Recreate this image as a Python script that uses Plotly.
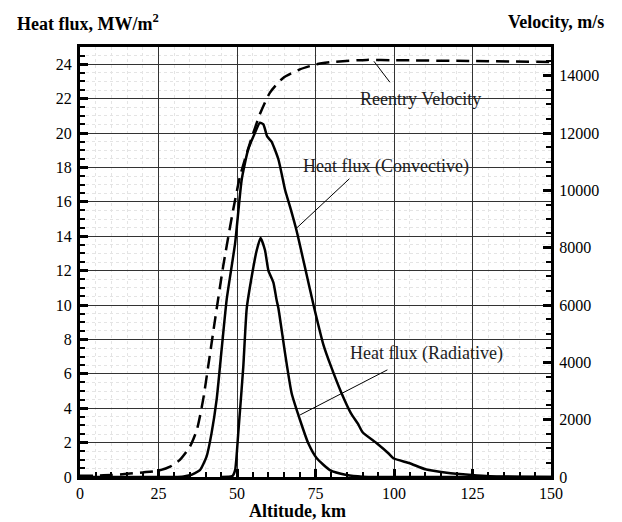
import plotly.graph_objects as go

# ---------------- data ----------------
vel_alt = [0, 5, 10, 15, 20, 25, 28.7, 31.8, 35.0, 37.2, 39.2, 40.8, 43.0, 45.6, 48.8,
           51.0, 54.1, 57.3, 60.5, 64.7, 70.0, 75.4, 80.6, 91.3, 100, 125, 150]
velocity = [40, 50, 70, 110, 160, 220, 360, 600, 1060, 1640, 2690, 3840, 5480, 7350, 9330,
            10500, 11640, 12660, 13410, 13920, 14220, 14400, 14480, 14550, 14540, 14510, 14480]

conv_alt = [0, 30, 33, 35, 38.2, 40.3, 41.9, 43.5, 45.1, 46.7, 49.4, 51.5, 53.5, 55.7, 57.3,
            58.4, 59.6, 61.0, 63.2, 65.3, 66.9, 69.0, 72.0, 74.5, 77.5, 80.0,
            83.3, 86.3, 88.5, 90.0, 94.5, 98.2, 99.8, 105, 110, 116.8, 124.7, 130.6, 140, 150]
conv_flux = [0, 0, 0.03, 0.1, 0.4, 1.18, 2.55, 4.48, 7.4, 10.3, 13.6, 17.3, 19.0, 20.0, 20.6,
             20.5, 19.8, 19.5, 18.46, 16.7, 15.7, 14.3, 11.9, 9.9, 7.7, 6.4,
             4.87, 3.7, 3.1, 2.6, 1.96, 1.38, 1.09, 0.8, 0.45, 0.25, 0.12, 0.05, 0.02, 0]

rad_alt = [45, 48.5, 49.4, 50.4, 52.0, 53.1, 54.7, 56.3, 57.5, 58.9, 60.0, 61.6, 62.6, 63.2,
           65.3, 67.4, 70.1, 72.7, 75.4, 79.6, 84.9, 90, 100, 150]
rad_flux = [0, 0.05, 0.4, 2.55, 6.4, 9.8, 11.67, 13.2, 13.9, 13.2, 12.0, 11.3, 10.3, 9.8,
            7.2, 4.87, 3.3, 1.96, 1.09, 0.4, 0.12, 0.02, 0, 0]

x_ticks = [0, 25, 50, 75, 100, 125, 150]
flux_ticks = list(range(0, 25, 2))
vel_ticks = list(range(0, 15000, 2000))

FONT = "Liberation Serif, Times New Roman, serif"

fig = go.Figure()
fig.add_trace(go.Scatter(x=vel_alt, y=velocity, yaxis="y2", mode="lines",
                         line=dict(color="black", width=2.5, dash="13px,7px", shape="spline", smoothing=0.6),
                         name="Reentry Velocity", showlegend=False))
fig.add_trace(go.Scatter(x=conv_alt, y=conv_flux, mode="lines",
                         line=dict(color="black", width=2.5, shape="spline", smoothing=0.5),
                         name="Heat flux (Convective)", showlegend=False))
fig.add_trace(go.Scatter(x=rad_alt, y=rad_flux, mode="lines",
                         line=dict(color="black", width=2.5, shape="spline", smoothing=0.5),
                         name="Heat flux (Radiative)", showlegend=False))

tickfont = dict(family=FONT, size=16, color="black")

fig.update_layout(
    width=622, height=522,
    margin=dict(l=80, r=71, t=47, b=45),
    paper_bgcolor="white", plot_bgcolor="white",
    font=dict(family=FONT, color="black"),
    xaxis=dict(range=[0, 150], tickvals=x_ticks, ticks="inside", ticklen=8, tickwidth=2.5,
               tickcolor="black", showline=True, linewidth=3, linecolor="black", mirror=True,
               showgrid=True, gridcolor="#333", gridwidth=1, zeroline=False,
               tickfont=tickfont, ticklabelstandoff=0,
               minor=dict(dtick=5, ticks="inside", ticklen=5, tickwidth=1.5, tickcolor="black",
                          showgrid=True, gridcolor="#e4e4e4", griddash="dot", gridwidth=1)),
    yaxis=dict(range=[0, 25], tickvals=flux_ticks, ticks="inside", ticklen=8, tickwidth=2.5,
               tickcolor="black", showline=True, linewidth=3, linecolor="black", mirror=False,
               showgrid=True, gridcolor="#333", gridwidth=1, zeroline=False,
               tickfont=tickfont, ticklabelstandoff=2,
               minor=dict(dtick=0.5, ticks="inside", ticklen=5, tickwidth=1.5, tickcolor="black",
                          showgrid=True, gridcolor="#e4e4e4", griddash="dot", gridwidth=1)),
    yaxis2=dict(range=[0, 15000], tickvals=vel_ticks, tickformat="d", overlaying="y", side="right",
                ticks="inside", ticklen=8, tickwidth=2.5, tickcolor="black",
                showline=True, linewidth=3, linecolor="black", showgrid=False, zeroline=False,
                tickfont=tickfont, ticklabelstandoff=2,
                minor=dict(dtick=500, ticks="inside", ticklen=5, tickwidth=1.5, tickcolor="black")),
    showlegend=False,
)

ann_font = dict(family=FONT, size=18, color="#222")
title_font = dict(family=FONT, size=18, color="black")

annotations = [
    dict(text="<b>Heat flux, MW/m<sup>2</sup></b>", xref="paper", yref="paper", x=-0.138, y=1.058,
         xanchor="left", yanchor="middle", showarrow=False, font=title_font),
    dict(text="<b>Velocity, m/s</b>", xref="paper", yref="paper", x=1.117, y=1.058,
         xanchor="right", yanchor="middle", showarrow=False, font=title_font),
    dict(text="<b>Altitude, km</b>", xref="paper", yref="paper", x=0.462, y=-0.08,
         xanchor="center", yanchor="middle", showarrow=False, font=title_font),
    dict(text="Reentry Velocity", xref="x", yref="y", x=108.3, y=21.96, showarrow=False,
         xanchor="center", yanchor="middle", font=ann_font),
    dict(text="Heat flux (Convective)", xref="x", yref="y", x=97.6, y=18.07, showarrow=False,
         xanchor="center", yanchor="middle", font=ann_font),
    dict(text="Heat flux (Radiative)", xref="x", yref="y", x=110.4, y=7.2, showarrow=False,
         xanchor="center", yanchor="middle", font=ann_font),
]
fig.update_layout(annotations=annotations)

leaders = [((93.6, 24.17), (98.7, 22.95)),
           ((85.8, 17.34), (68.5, 14.39)),
           ((97.9, 6.23), (70.1, 3.61))]
for (x0, y0), (x1, y1) in leaders:
    fig.add_shape(type="line", xref="x", yref="y", x0=x0, y0=y0, x1=x1, y1=y1,
                  line=dict(color="black", width=1))

fig.write_html("out.html")
